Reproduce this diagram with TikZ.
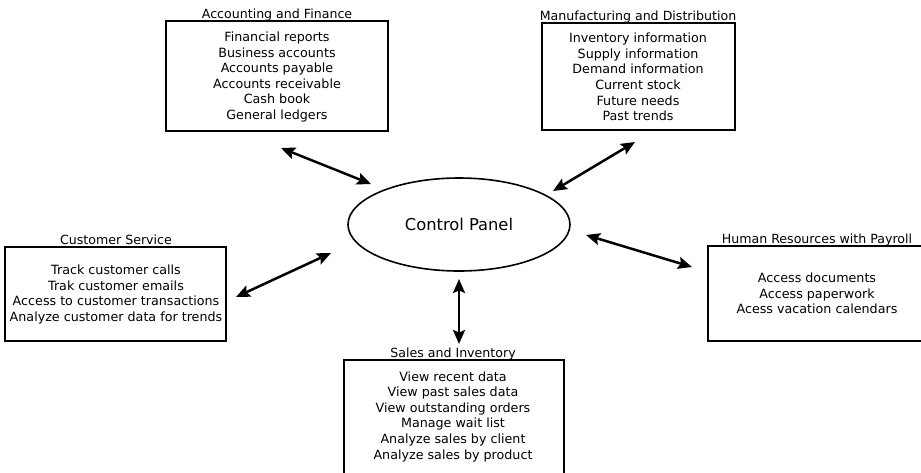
\documentclass[tikz,border=0pt]{standalone}
\usepackage{fontspec}
\setmainfont{DejaVu Sans}
\usetikzlibrary{arrows.meta,shapes.geometric}
\tikzset{
  modbox/.style={draw, line width=1.6pt, inner sep=0pt},
  modtext/.style={align=center, inner sep=0pt, font=\fontsize{12.7}{15.6}\selectfont},
  modtitle/.style={anchor=base, inner sep=0pt, font=\fontsize{12.6}{14}\selectfont},
  link/.style={line width=2.5pt, {Stealth[length=14pt,width=12pt,inset=2.5pt]}-{Stealth[length=14pt,width=12pt,inset=2.5pt]}},
  hub/.style={draw, ellipse, line width=1.6pt, minimum width=222pt, minimum height=93pt,
    font=\fontsize{16.3}{18}\selectfont}
}
\begin{document}
\begin{tikzpicture}[x=1pt,y=-1pt]
\useasboundingbox (0,0) rectangle (921,472);

% central hub
\node[hub] (cp) at (459,224.5) {Control Panel};

% Accounting and Finance
\node[modbox, minimum width=222pt, minimum height=110pt] (acc) at (277,76) {};
\node[modtext] (acctx) at (277,77)
  {Financial reports\\Business accounts\\Accounts payable\\Accounts receivable\\Cash book\\General ledgers};
\node[modtitle] (acct) at (277,18) {Accounting and Finance};

% Manufacturing and Distribution
\node[modbox, minimum width=193pt, minimum height=107pt] (man) at (638.5,76.5) {};
\node[modtext] (mantx) at (638,77)
  {Inventory information\\Supply information\\Demand information\\Current stock\\Future needs\\Past trends};
\node[modtitle] (mant) at (638,20) {Manufacturing and Distribution};

% Customer Service
\node[modbox, minimum width=221pt, minimum height=94pt] (cs) at (115.5,294) {};
\node[modtext] (cstx) at (116,294.5)
  {Track customer calls\\Trak customer emails\\Access to customer transactions\\Analyze customer data for trends};
\node[modtitle] (cst) at (116,244) {Customer Service};

% Human Resources with Payroll
\node[modbox, minimum width=214pt, minimum height=95pt] (hr) at (815,293.5) {};
\node[modtext] (hrtx) at (817,293.5)
  {Access documents\\Access paperwork\\Acess vacation calendars};
\node[modtitle] (hrt) at (817,243) {Human Resources with Payroll};

% Sales and Inventory
\node[modbox, minimum width=220pt, minimum height=116pt] (sal) at (454,418) {};
\node[modtext] (saltx) at (453,416.5)
  {View recent data\\View past sales data\\View outstanding orders\\Manage wait list\\Analyze sales by client\\Analyze sales by product};
\node[modtitle] (salt) at (453,357) {Sales and Inventory};

% connector ends
\coordinate (a1) at (281,148);  \coordinate (a2) at (371,184);
\coordinate (m1) at (635,142);  \coordinate (m2) at (553,191);
\coordinate (c1) at (331,253);  \coordinate (c2) at (236,297);
\coordinate (h1) at (586,235);  \coordinate (h2) at (692,267);
\coordinate (s1) at (459,279);  \coordinate (s2) at (459,344);

\draw[link] (a1) -- (a2);
\draw[link] (m1) -- (m2);
\draw[link] (c1) -- (c2);
\draw[link] (h1) -- (h2);
\draw[link] (s1) -- (s2);
\end{tikzpicture}
\end{document}
